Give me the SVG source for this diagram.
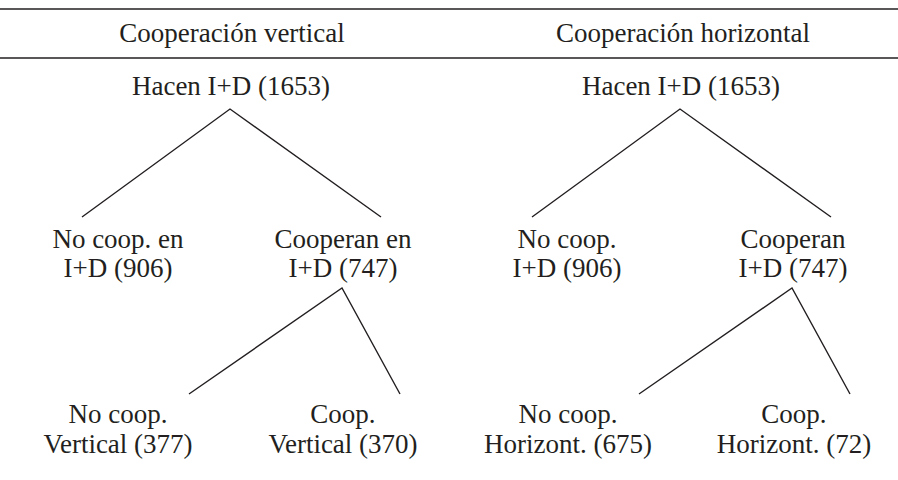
<svg xmlns="http://www.w3.org/2000/svg" width="898" height="480" viewBox="0 0 898 480">
<style>
text{font-family:"Liberation Serif","Times New Roman",serif;font-size:27px;fill:#231f20;text-anchor:middle}
.rule{stroke:#231f20;stroke-width:1.5}
.edge{stroke:#231f20;stroke-width:1.4;fill:none}
</style>
<rect width="898" height="480" fill="#ffffff"/>
<g id="rules">
<line class="rule" x1="0" y1="9" x2="898" y2="9"/>
<line class="rule" x1="0" y1="58" x2="898" y2="58"/>
</g>
<g id="titles">
<text x="232" y="42">Cooperación vertical</text>
<text x="683" y="42">Cooperación horizontal</text>
</g>
<g id="connectors">
<polyline class="edge" points="82,217 230,109 381,217"/>
<polyline class="edge" points="189,394 342,288 400,394"/>
<polyline class="edge" points="532,217 680,109 831,217"/>
<polyline class="edge" points="639,394 792,288 850,394"/>
</g>
<g id="v-root"><text x="231" y="95">Hacen I+D (1653)</text></g>
<g id="v-nocoop"><text x="118" y="248">No coop. en</text><text x="118" y="277">I+D (906)</text></g>
<g id="v-coop"><text x="343" y="248">Cooperan en</text><text x="343" y="277">I+D (747)</text></g>
<g id="v-nocoopvert"><text x="118" y="423">No coop.</text><text x="118" y="453">Vertical (377)</text></g>
<g id="v-coopvert"><text x="343" y="423">Coop.</text><text x="343" y="453">Vertical (370)</text></g>
<g id="h-root"><text x="681" y="95">Hacen I+D (1653)</text></g>
<g id="h-nocoop"><text x="567" y="248">No coop.</text><text x="567" y="277">I+D (906)</text></g>
<g id="h-coop"><text x="793" y="248">Cooperan</text><text x="793" y="277">I+D (747)</text></g>
<g id="h-nocoophor"><text x="568" y="423">No coop.</text><text x="568" y="453">Horizont. (675)</text></g>
<g id="h-coophor"><text x="794" y="423">Coop.</text><text x="794" y="453">Horizont. (72)</text></g>
</svg>
